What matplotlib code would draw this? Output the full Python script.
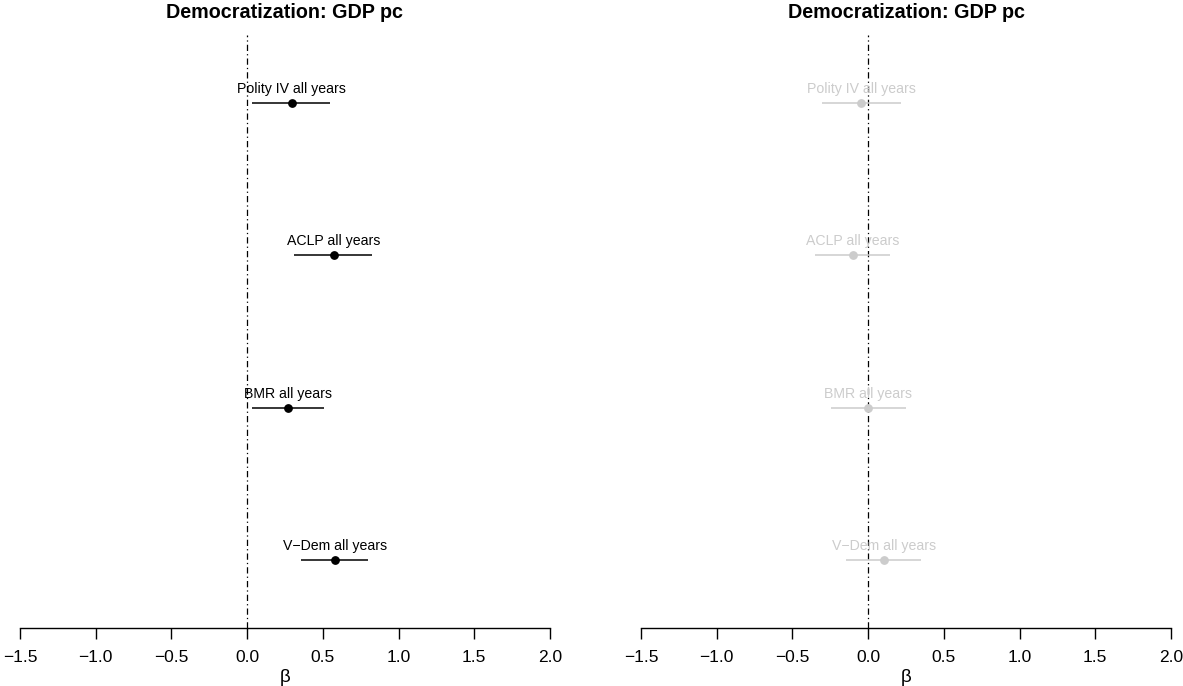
import matplotlib
matplotlib.use("Agg")
from matplotlib import pyplot as plt
import numpy as np

plt.rcParams['font.family'] = ['Liberation Sans', 'DejaVu Sans']

# models, top to bottom
labels = ["Polity IV all years", "ACLP all years", "BMR all years", "V\u2212Dem all years"]
ypos = [4, 3, 2, 1]

# left panel (black)
left_est = [0.295, 0.573, 0.269, 0.583]
left_lo = [0.035, 0.312, 0.031, 0.356]
left_hi = [0.548, 0.823, 0.509, 0.801]

# right panel (grey)
right_est = [-0.044, -0.100, 0.000, 0.104]
right_lo = [-0.306, -0.350, -0.246, -0.145]
right_hi = [0.216, 0.145, 0.251, 0.348]

xticks = [-1.5, -1.0, -0.5, 0.0, 0.5, 1.0, 1.5, 2.0]
title = "Democratization: GDP pc"

W, H = 1183, 686
fig = plt.figure(figsize=(W / 100, H / 100), dpi=100)


def panel(left_px, est, lo, hi, col):
    ax = fig.add_axes([left_px / W, 58 / H, 530 / W, 593 / H])
    ax.set_xlim(-1.5, 2.0)
    ax.set_ylim(0.554, 4.446)

    #zero line
    ax.axvline(0, color="black", lw=0.9, ls=(0, (5, 2.5, 1, 2.5)), zorder=1)

    #intervals and points
    ax.hlines(ypos, lo, hi, color=col, lw=1.1, zorder=2)
    ax.plot(est, ypos, "o", color=col, ms=5.3, zorder=3)
    for x, y, lab in zip(est, ypos, labels):
        ax.annotate(lab, (x, y), xytext=(0, 10), textcoords="offset points",
                    ha="center", va="center", fontsize=10.2, color=col)

    #axis styling like base R
    for s in ["top", "left", "right"]:
        ax.spines[s].set_visible(False)
    ax.spines["bottom"].set_linewidth(1.0)
    ax.set_yticks([])
    ax.set_xticks(xticks)
    ax.set_xticklabels([f"{t:.1f}".replace("-", "\u2212") for t in xticks], fontsize=12.5)
    ax.tick_params(axis="x", direction="out", length=8, width=1.0, pad=8)

    #title and xlab centred on the axis range
    mid = np.mean(ax.get_xlim())
    tr = ax.get_xaxis_transform()
    ax.text(mid, 1 + 23 / 593, title, transform=tr, ha="center", va="center",
            fontsize=14.2, fontweight="bold")
    ax.text(mid, -49 / 593, "\u03b2", transform=tr, ha="center", va="center",
            fontsize=13.5)
    return ax


panel(20, left_est, left_lo, left_hi, "black")
panel(641, right_est, right_lo, right_hi, "#cccccc")

fig.savefig("out.png", dpi=100)
